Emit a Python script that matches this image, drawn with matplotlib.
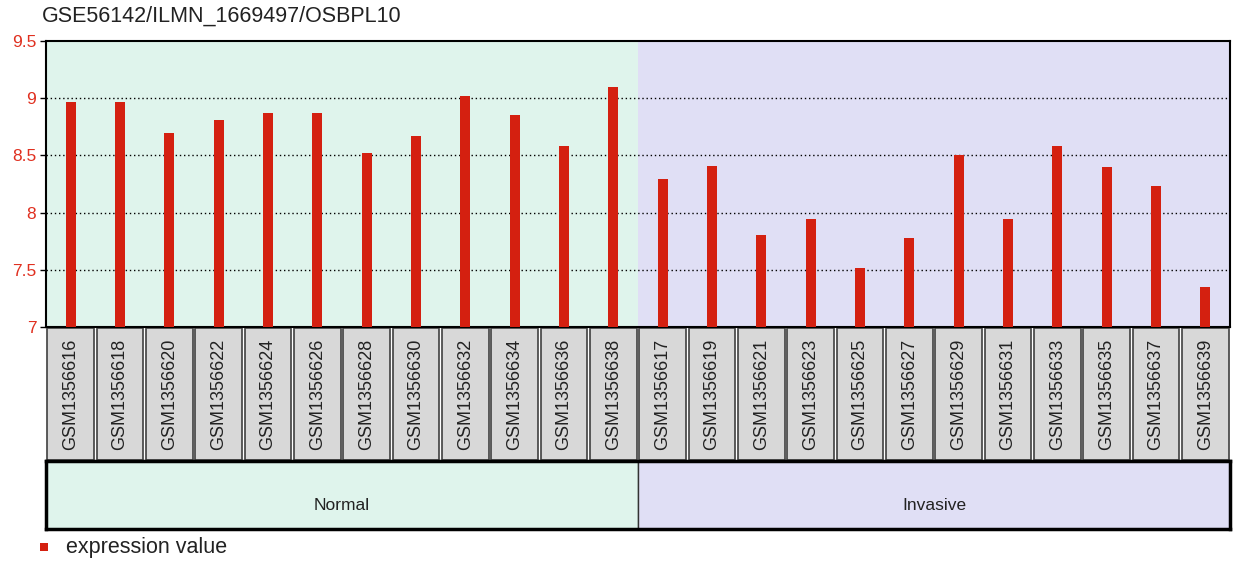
import matplotlib.pyplot as plt
from matplotlib.patches import Rectangle

# data
samples = ["GSM1356616", "GSM1356618", "GSM1356620", "GSM1356622", "GSM1356624",
           "GSM1356626", "GSM1356628", "GSM1356630", "GSM1356632", "GSM1356634",
           "GSM1356636", "GSM1356638", "GSM1356617", "GSM1356619", "GSM1356621",
           "GSM1356623", "GSM1356625", "GSM1356627", "GSM1356629", "GSM1356631",
           "GSM1356633", "GSM1356635", "GSM1356637", "GSM1356639"]
values = [8.965, 8.965, 8.70, 8.81, 8.87, 8.87, 8.52, 8.67, 9.02, 8.85, 8.58, 9.10,
          8.29, 8.41, 7.80, 7.94, 7.52, 7.78, 8.50, 7.94, 8.58, 8.40, 8.23, 7.35]
groups = ["Normal", "Invasive"]
group_sizes = [12, 12]
group_colors = ["#dff4ec", "#e0dff5"]
yticks = [7, 7.5, 8, 8.5, 9, 9.5]
ytick_labels = ["7", "7.5", "8", "8.5", "9", "9.5"]
title = "GSE56142/ILMN_1669497/OSBPL10"

plt.rcParams['font.family'] = ['Liberation Sans', 'DejaVu Sans']
W, H = 1235, 564
fig = plt.figure(figsize=(W / 100, H / 100), dpi=100)


def px_axes(x0, y0, x1, y1):
    # pixel box (top-left origin) -> figure axes
    return fig.add_axes([x0 / W, 1 - y1 / H, (x1 - x0) / W, (y1 - y0) / H])


n = len(samples)
xlim = (-0.5, n - 0.5)
bar_color = "#d42010"

# main bar panel
ax = px_axes(46, 41, 1230, 327)
start = 0
for g, size, col in zip(groups, group_sizes, group_colors):
    ax.axvspan(start - 0.5, start + size - 0.5, color=col, zorder=0, lw=0)
    start += size
ax.bar(range(n), [v - 7 for v in values], bottom=7, width=0.2, color=bar_color, zorder=3)
ax.set_xlim(*xlim)
ax.set_ylim(7, 9.5)
ax.set_xticks([])
ax.set_yticks(yticks)
ax.set_yticklabels(ytick_labels, color="#e03020", fontsize=12.5)
ax.tick_params(axis="y", length=4, width=1, pad=3)
for y in yticks[1:-1]:
    ax.axhline(y, color="black", lw=1, ls=(0, (1, 2)), zorder=2)
for s in ax.spines.values():
    s.set_linewidth(1.5)
fig.text(42 / W, 1 - 16 / H, title, fontsize=15.5, va="center", ha="left", color="#222222")

# sample label boxes
lab = px_axes(46, 328, 1230, 460)
lab.set_xlim(*xlim)
lab.set_ylim(0, 1)
lab.axis("off")
for i, s in enumerate(samples):
    lab.add_patch(Rectangle((i - 0.47, 0.0), 0.94, 1.0, facecolor="#d8d8d8",
                            edgecolor="#404040", lw=1.2))
    lab.text(i, 0.5, s, rotation=90, ha="center", va="center", fontsize=13, color="#222222")

# group boxes
grp = px_axes(46, 461, 1230, 529)
grp.set_xlim(*xlim)
grp.set_ylim(0, 1)
grp.set_xticks([])
grp.set_yticks([])
start = 0
for g, size, col in zip(groups, group_sizes, group_colors):
    grp.add_patch(Rectangle((start - 0.5, 0), size, 1, facecolor=col, edgecolor="#333333", lw=1))
    grp.text(start - 0.5 + size / 2, 0.35, g, ha="center", va="center", fontsize=12.5, color="#222222")
    start += size
for s in grp.spines.values():
    s.set_linewidth(2.5)

# legend
fig.patches.append(Rectangle((40 / W, 1 - 551 / H), 8 / W, 8 / H, transform=fig.transFigure,
                             facecolor=bar_color, edgecolor="none"))
fig.text(66 / W, 1 - 547 / H, "expression value", fontsize=15.5, va="center", ha="left", color="#222222")

fig.savefig("out.png", dpi=100)
